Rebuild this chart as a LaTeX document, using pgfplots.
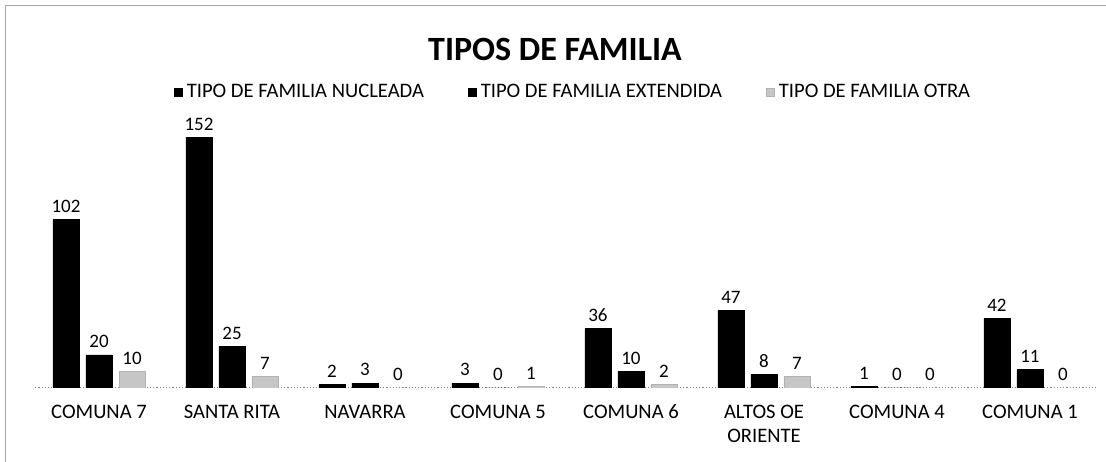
\documentclass[border=0pt]{standalone}
\usepackage{pgfplots}
\pgfplotsset{compat=1.18}
\usepackage{fontspec}
\setmainfont{Carlito}
\begin{document}
\begin{tikzpicture}
\path[use as bounding box] (0,0) rectangle (553bp,231bp);
\draw[gray!70, line width=0.4bp] (2.5bp,0) -- (2.5bp,228.5bp) -- (553bp,228.5bp);
\node[font=\fontsize{17bp}{20bp}\selectfont\bfseries] at (277.5bp,206.5bp) {TIPOS DE FAMILIA};
\begin{axis}[
  at={(16.25bp,37bp)}, anchor=south west,
  scale only axis, width=532bp, height=132bp,
  xmin=-0.5, xmax=7.5, ymin=0, ymax=160,
  axis line style={draw=none},
  tick style={draw=none},
  ytick=\empty,
  ybar=3.5bp, bar width=13bp,
  xtick={0,...,7},
  xticklabels={\strut COMUNA 7, \strut SANTA RITA, \strut NAVARRA, \strut COMUNA 5, \strut COMUNA 6, {\strut ALTOS OE\\ORIENTE}, \strut COMUNA 4, \strut COMUNA 1},
  xticklabel style={align=center, font=\fontsize{10.3bp}{12bp}\selectfont, yshift=1bp},
  /pgf/number format/assume math mode=true,
  nodes near coords,
  every node near coord/.append style={font=\fontsize{9.5bp}{11bp}\selectfont, black},
  legend style={at={(0.509,1.121)}, anchor=center, draw=none, fill=none,
    legend columns=3, font=\fontsize{10.3bp}{12bp}\selectfont,
    nodes={inner xsep=2bp},
    /tikz/every even column/.append style={column sep=20bp}},
  legend image code/.code={\fill[#1] (0bp,-2bp) rectangle (4bp,2bp);},
]
\draw[gray, densely dotted, line width=0.6bp] (axis cs:-0.48,0) -- (axis cs:7.5,0);
\addplot[fill=black, draw=black] coordinates {(0,102) (1,152) (2,2) (3,3) (4,36) (5,47) (6,1) (7,42)};
\addplot[fill=black, draw=black] coordinates {(0,20) (1,25) (2,3) (3,0) (4,10) (5,8) (6,0) (7,11)};
\addplot[fill=gray!45, draw=gray!60] coordinates {(0,10) (1,7) (2,0) (3,1) (4,2) (5,7) (6,0) (7,0)};
\legend{TIPO DE FAMILIA NUCLEADA, TIPO DE FAMILIA EXTENDIDA, TIPO DE FAMILIA OTRA}
\end{axis}
\end{tikzpicture}
\end{document}
